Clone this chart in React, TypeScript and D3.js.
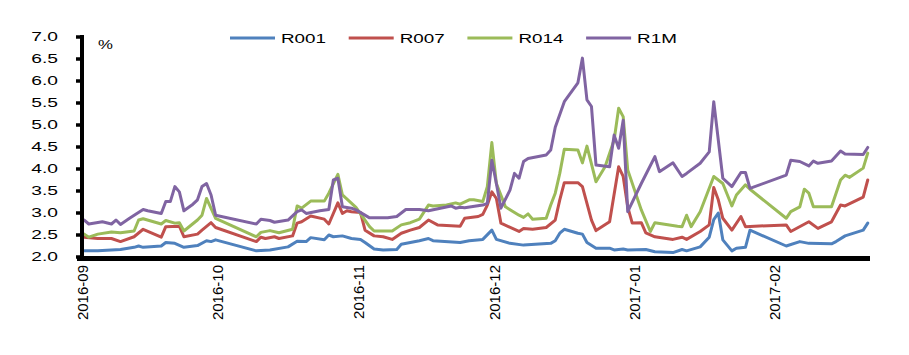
import React from "react";
import * as d3 from "d3";

type Pt = [string, number];

const SERIES_NAMES = ["R001", "R007", "R014", "R1M"];
const SERIES_COLORS = ["#4f81bd", "#c0504d", "#9bbb59", "#8064a2"];
const Y_TICKS = [2.0, 2.5, 3.0, 3.5, 4.0, 4.5, 5.0, 5.5, 6.0, 6.5, 7.0];
const X_TICK_LABELS = ["2016-09", "2016-10", "2016-11", "2016-12", "2017-01", "2017-02"];
const UNIT_LABEL = "%";

const R001: Pt[] = [
  ["2016-09-01", 2.14], ["2016-09-04", 2.14], ["2016-09-09", 2.17], ["2016-09-12", 2.22], ["2016-09-13", 2.25],
  ["2016-09-14", 2.22], ["2016-09-18", 2.25], ["2016-09-19", 2.33], ["2016-09-21", 2.31], ["2016-09-23", 2.22],
  ["2016-09-26", 2.26], ["2016-09-28", 2.37], ["2016-09-29", 2.35], ["2016-09-30", 2.39], ["2016-10-09", 2.14],
  ["2016-10-12", 2.16], ["2016-10-16", 2.23], ["2016-10-18", 2.36], ["2016-10-20", 2.35], ["2016-10-21", 2.44],
  ["2016-10-24", 2.39], ["2016-10-25", 2.5], ["2016-10-26", 2.46], ["2016-10-28", 2.48], ["2016-10-30", 2.42],
  ["2016-11-01", 2.4], ["2016-11-02", 2.33], ["2016-11-04", 2.18], ["2016-11-06", 2.16], ["2016-11-09", 2.17],
  ["2016-11-10", 2.29], ["2016-11-14", 2.37], ["2016-11-16", 2.42], ["2016-11-17", 2.37], ["2016-11-23", 2.33],
  ["2016-11-25", 2.37], ["2016-11-28", 2.4], ["2016-11-30", 2.61], ["2016-12-01", 2.4], ["2016-12-04", 2.31],
  ["2016-12-07", 2.27], ["2016-12-13", 2.31], ["2016-12-14", 2.37], ["2016-12-15", 2.54], ["2016-12-16", 2.63],
  ["2016-12-19", 2.54], ["2016-12-20", 2.52], ["2016-12-21", 2.33], ["2016-12-23", 2.2], ["2016-12-26", 2.2],
  ["2016-12-27", 2.16], ["2016-12-29", 2.18], ["2016-12-30", 2.16], ["2017-01-03", 2.17], ["2017-01-05", 2.12],
  ["2017-01-09", 2.1], ["2017-01-11", 2.17], ["2017-01-12", 2.14], ["2017-01-15", 2.23], ["2017-01-17", 2.45],
  ["2017-01-18", 2.85], ["2017-01-19", 3.0], ["2017-01-20", 2.39], ["2017-01-22", 2.14], ["2017-01-23", 2.2],
  ["2017-01-25", 2.22], ["2017-01-26", 2.61], ["2017-02-03", 2.25], ["2017-02-06", 2.35], ["2017-02-08", 2.31],
  ["2017-02-13", 2.3], ["2017-02-14", 2.35], ["2017-02-16", 2.48], ["2017-02-20", 2.61], ["2017-02-21", 2.77],
];

const R007: Pt[] = [
  ["2016-09-01", 2.45], ["2016-09-04", 2.42], ["2016-09-07", 2.42], ["2016-09-09", 2.35], ["2016-09-12", 2.46],
  ["2016-09-14", 2.63], ["2016-09-18", 2.45], ["2016-09-19", 2.69], ["2016-09-22", 2.7], ["2016-09-23", 2.46],
  ["2016-09-26", 2.52], ["2016-09-27", 2.61], ["2016-09-29", 2.78], ["2016-09-30", 2.67], ["2016-10-09", 2.35],
  ["2016-10-10", 2.45], ["2016-10-11", 2.42], ["2016-10-13", 2.46], ["2016-10-14", 2.42], ["2016-10-17", 2.48],
  ["2016-10-18", 2.77], ["2016-10-19", 2.8], ["2016-10-21", 2.93], ["2016-10-24", 2.86], ["2016-10-25", 2.75],
  ["2016-10-27", 3.23], ["2016-10-28", 2.99], ["2016-10-29", 3.05], ["2016-10-30", 3.03], ["2016-11-01", 3.01],
  ["2016-11-02", 2.61], ["2016-11-04", 2.48], ["2016-11-06", 2.46], ["2016-11-08", 2.4], ["2016-11-10", 2.54],
  ["2016-11-12", 2.61], ["2016-11-14", 2.67], ["2016-11-16", 2.84], ["2016-11-18", 2.73], ["2016-11-23", 2.7],
  ["2016-11-24", 2.88], ["2016-11-27", 2.92], ["2016-11-28", 2.97], ["2016-11-29", 3.18], ["2016-11-30", 3.48],
  ["2016-12-01", 3.33], ["2016-12-02", 2.77], ["2016-12-06", 2.58], ["2016-12-07", 2.65], ["2016-12-09", 2.63],
  ["2016-12-12", 2.67], ["2016-12-14", 2.84], ["2016-12-15", 3.3], ["2016-12-16", 3.69], ["2016-12-19", 3.69],
  ["2016-12-20", 3.6], ["2016-12-22", 2.84], ["2016-12-23", 2.6], ["2016-12-26", 2.8], ["2016-12-28", 4.05],
  ["2016-12-29", 3.83], ["2016-12-30", 3.14], ["2016-12-31", 2.77], ["2017-01-02", 2.78], ["2017-01-03", 2.55],
  ["2017-01-05", 2.46], ["2017-01-09", 2.4], ["2017-01-11", 2.45], ["2017-01-12", 2.4], ["2017-01-15", 2.58],
  ["2017-01-17", 2.73], ["2017-01-18", 3.58], ["2017-01-19", 3.3], ["2017-01-20", 2.88], ["2017-01-22", 2.61],
  ["2017-01-24", 2.92], ["2017-01-25", 2.69], ["2017-02-03", 2.73], ["2017-02-04", 2.58], ["2017-02-08", 2.8],
  ["2017-02-10", 2.65], ["2017-02-13", 2.8], ["2017-02-15", 3.18], ["2017-02-16", 3.16], ["2017-02-20", 3.36],
  ["2017-02-21", 3.75],
];

const R014: Pt[] = [
  ["2016-09-01", 2.52], ["2016-09-02", 2.45], ["2016-09-04", 2.52], ["2016-09-07", 2.57], ["2016-09-09", 2.55],
  ["2016-09-12", 2.59], ["2016-09-13", 2.84], ["2016-09-14", 2.87], ["2016-09-18", 2.75], ["2016-09-19", 2.83],
  ["2016-09-21", 2.77], ["2016-09-22", 2.78], ["2016-09-23", 2.59], ["2016-09-26", 2.84], ["2016-09-27", 2.95],
  ["2016-09-28", 3.33], ["2016-09-30", 2.88], ["2016-10-09", 2.46], ["2016-10-10", 2.56], ["2016-10-12", 2.6],
  ["2016-10-14", 2.55], ["2016-10-17", 2.63], ["2016-10-18", 3.16], ["2016-10-19", 3.11], ["2016-10-21", 3.27],
  ["2016-10-24", 3.27], ["2016-10-25", 3.45], ["2016-10-27", 3.88], ["2016-10-28", 3.41], ["2016-10-31", 3.13],
  ["2016-11-03", 2.69], ["2016-11-04", 2.59], ["2016-11-08", 2.59], ["2016-11-10", 2.73], ["2016-11-12", 2.78],
  ["2016-11-14", 2.86], ["2016-11-16", 3.18], ["2016-11-17", 3.16], ["2016-11-20", 3.18], ["2016-11-22", 3.23],
  ["2016-11-23", 3.2], ["2016-11-25", 3.3], ["2016-11-26", 3.3], ["2016-11-28", 3.26], ["2016-11-29", 3.6],
  ["2016-11-30", 4.6], ["2016-12-01", 3.67], ["2016-12-03", 3.14], ["2016-12-06", 2.95], ["2016-12-07", 2.9],
  ["2016-12-08", 2.98], ["2016-12-09", 2.86], ["2016-12-12", 2.88], ["2016-12-13", 3.18], ["2016-12-14", 3.45],
  ["2016-12-15", 3.9], ["2016-12-16", 4.45], ["2016-12-19", 4.43], ["2016-12-20", 4.14], ["2016-12-21", 4.52],
  ["2016-12-23", 3.71], ["2016-12-25", 4.05], ["2016-12-27", 4.66], ["2016-12-28", 5.38], ["2016-12-29", 5.19],
  ["2016-12-30", 3.98], ["2017-01-02", 3.07], ["2017-01-04", 2.58], ["2017-01-05", 2.78], ["2017-01-10", 2.7],
  ["2017-01-11", 2.69], ["2017-01-12", 2.95], ["2017-01-13", 2.69], ["2017-01-15", 3.03], ["2017-01-18", 3.83],
  ["2017-01-20", 3.67], ["2017-01-22", 3.16], ["2017-01-23", 3.41], ["2017-01-25", 3.64], ["2017-01-26", 3.54],
  ["2017-02-03", 2.88], ["2017-02-04", 3.03], ["2017-02-06", 3.14], ["2017-02-07", 3.54], ["2017-02-08", 3.45],
  ["2017-02-09", 3.14], ["2017-02-13", 3.14], ["2017-02-15", 3.75], ["2017-02-16", 3.86], ["2017-02-17", 3.81],
  ["2017-02-20", 4.02], ["2017-02-21", 4.36],
];

const R1M: Pt[] = [
  ["2016-09-01", 2.84], ["2016-09-02", 2.75], ["2016-09-05", 2.8], ["2016-09-07", 2.75], ["2016-09-08", 2.84],
  ["2016-09-09", 2.74], ["2016-09-11", 2.88], ["2016-09-14", 3.08], ["2016-09-15", 3.05], ["2016-09-18", 2.99],
  ["2016-09-19", 3.26], ["2016-09-20", 3.26], ["2016-09-21", 3.6], ["2016-09-22", 3.48], ["2016-09-23", 3.05],
  ["2016-09-25", 3.2], ["2016-09-26", 3.3], ["2016-09-27", 3.6], ["2016-09-28", 3.67], ["2016-09-29", 3.41],
  ["2016-09-30", 2.95], ["2016-10-09", 2.75], ["2016-10-10", 2.86], ["2016-10-12", 2.83], ["2016-10-13", 2.79],
  ["2016-10-16", 2.84], ["2016-10-18", 3.03], ["2016-10-19", 3.07], ["2016-10-20", 2.99], ["2016-10-23", 3.05],
  ["2016-10-25", 3.08], ["2016-10-26", 3.75], ["2016-10-27", 3.79], ["2016-10-28", 3.14], ["2016-10-30", 3.11],
  ["2016-10-31", 3.07], ["2016-11-03", 2.89], ["2016-11-07", 2.89], ["2016-11-09", 2.92], ["2016-11-11", 3.08],
  ["2016-11-14", 3.08], ["2016-11-16", 3.05], ["2016-11-21", 3.16], ["2016-11-22", 3.11], ["2016-11-23", 3.13],
  ["2016-11-24", 3.12], ["2016-11-28", 3.18], ["2016-11-29", 3.22], ["2016-11-30", 4.2], ["2016-12-01", 3.67],
  ["2016-12-02", 3.11], ["2016-12-04", 3.52], ["2016-12-05", 3.9], ["2016-12-06", 3.79], ["2016-12-07", 4.17],
  ["2016-12-08", 4.24], ["2016-12-12", 4.32], ["2016-12-13", 4.43], ["2016-12-14", 4.95], ["2016-12-16", 5.53],
  ["2016-12-19", 5.96], ["2016-12-20", 6.52], ["2016-12-21", 5.57], ["2016-12-22", 5.42], ["2016-12-23", 4.09],
  ["2016-12-26", 4.05], ["2016-12-27", 4.77], ["2016-12-28", 4.47], ["2016-12-29", 5.11], ["2016-12-30", 3.03],
  ["2017-01-02", 3.67], ["2017-01-05", 4.28], ["2017-01-06", 3.94], ["2017-01-09", 4.14], ["2017-01-11", 3.83],
  ["2017-01-12", 3.9], ["2017-01-15", 4.13], ["2017-01-17", 4.39], ["2017-01-18", 5.53], ["2017-01-20", 3.79],
  ["2017-01-22", 3.6], ["2017-01-24", 3.92], ["2017-01-25", 3.92], ["2017-01-26", 3.56], ["2017-02-03", 3.86],
  ["2017-02-04", 4.2], ["2017-02-06", 4.17], ["2017-02-08", 4.07], ["2017-02-09", 4.18], ["2017-02-10", 4.13],
  ["2017-02-13", 4.18], ["2017-02-15", 4.41], ["2017-02-16", 4.34], ["2017-02-20", 4.33], ["2017-02-21", 4.49],
];

const SERIES_DATA = [R001, R007, R014, R1M];

const FONT = "'Liberation Sans', Arial, sans-serif";

export default function App() {
  const parse = d3.timeParse("%Y-%m-%d");
  const x = d3
    .scaleTime()
    .domain([new Date(2016, 8, 1), new Date(2017, 1, 22)])
    .range([82, 870]);
  const y = d3.scaleLinear().domain([2, 7]).range([257, 37]);

  const xc = (s: string) => x(d3.timeHour.offset(parse(s) as Date, 12));
  const line = d3
    .line<Pt>()
    .x((d) => xc(d[0]))
    .y((d) => y(d[1]));

  const axisX = x.range()[0];
  const legendStart = 230;
  const legendStep = 118.7;

  return (
    <svg
      width={909}
      height={355}
      style={{ position: "absolute", left: 0, top: 0, background: "#fff", display: "block" }}
      fontFamily={FONT}
    >
      <rect x={0} y={0} width={909} height={355} fill="#fff" />

      {SERIES_DATA.map((data, i) => (
        <path
          key={SERIES_NAMES[i]}
          d={line(data) || ""}
          fill="none"
          stroke={SERIES_COLORS[i]}
          strokeWidth={3}
          strokeLinejoin="round"
          strokeLinecap="round"
        />
      ))}

      <line x1={axisX} x2={axisX} y1={y(7) - 2} y2={y(2) + 2} stroke="#000" strokeWidth={4} />
      {Y_TICKS.map((t) => (
        <g key={t}>
          <line x1={axisX - 6} x2={axisX} y1={y(t)} y2={y(t)} stroke="#000" strokeWidth={3.5} />
          <text
            transform={`translate(58,${y(t)}) scale(1.6,1)`}
            textAnchor="end"
            dominantBaseline="central"
            fontSize={12}
            fill="#000"
          >
            {t.toFixed(1)}
          </text>
        </g>
      ))}
      <text transform={`translate(98,${y(7) + 12}) scale(1.4,1)`} fontSize={12} fill="#000">
        {UNIT_LABEL}
      </text>

      <line x1={axisX - 5} x2={x.range()[1]} y1={y(2) + 1.5} y2={y(2) + 1.5} stroke="#000" strokeWidth={5} />
      {X_TICK_LABELS.map((lab) => {
        const px = x(parse(lab + "-01") as Date);
        return (
          <text
            key={lab}
            transform={`translate(${px},265) rotate(-90)`}
            textAnchor="end"
            dominantBaseline="central"
            fontSize={15}
            fill="#000"
          >
            {lab}
          </text>
        );
      })}

      {SERIES_NAMES.map((name, i) => {
        const lx = legendStart + i * legendStep;
        return (
          <g key={name}>
            <line x1={lx} x2={lx + 45} y1={38} y2={38} stroke={SERIES_COLORS[i]} strokeWidth={3} />
            <text
              transform={`translate(${lx + 51},38) scale(1.45,1)`}
              dominantBaseline="central"
              fontSize={13}
              fill="#000"
            >
              {name}
            </text>
          </g>
        );
      })}
    </svg>
  );
}
